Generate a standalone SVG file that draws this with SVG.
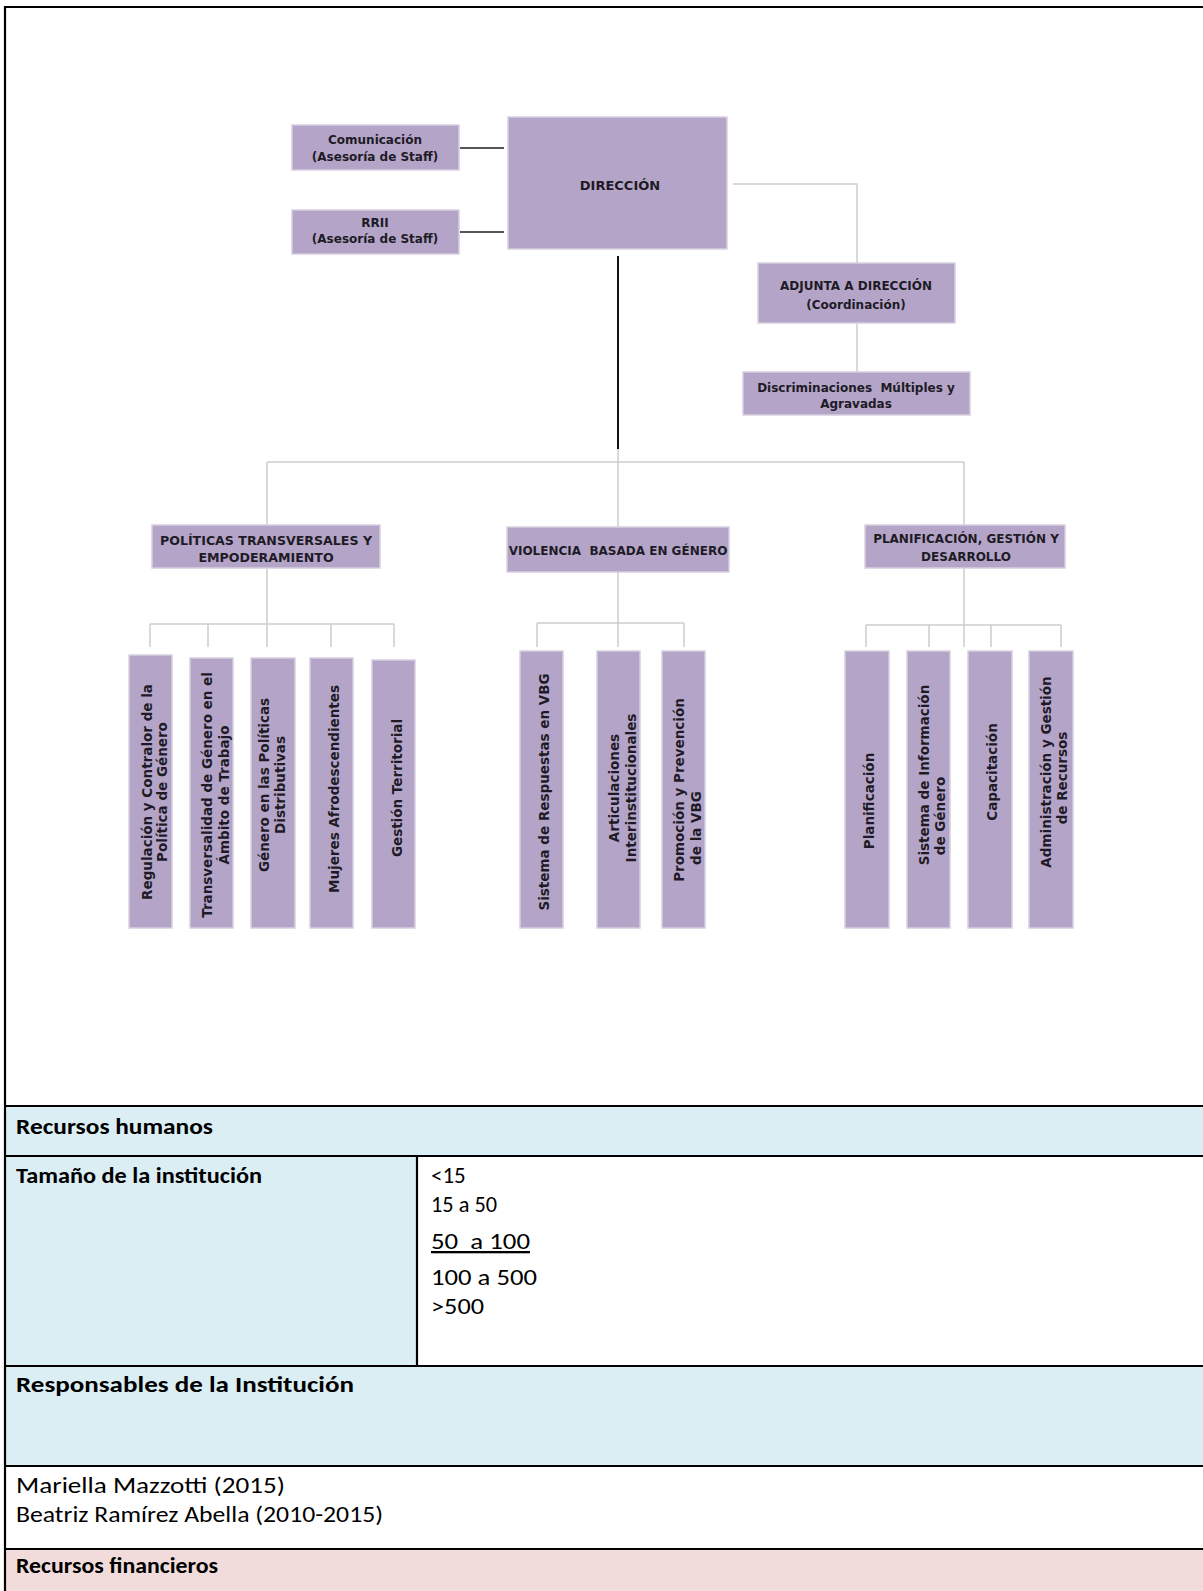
<svg xmlns="http://www.w3.org/2000/svg" width="1203" height="1591" viewBox="0 0 1203 1591">
<style>
.box{fill:#b4a5c8;stroke:#d6cfe0;stroke-width:1.5}
.lbl{font-family:"DejaVu Sans",Verdana,sans-serif;font-weight:bold;font-size:12px;fill:#1e1b26;text-anchor:middle;dominant-baseline:central;white-space:pre}
.v{font-size:13.5px}
.gray{stroke:#cdcdcd;stroke-width:1.5;fill:none}
.dark{stroke:#555;stroke-width:2;fill:none}
.main{stroke:#111;stroke-width:2;fill:none}
.rule{stroke:#000;stroke-width:2.2;fill:none}
.t{font-family:Carlito,Lato,"Open Sans",sans-serif;font-size:23px;fill:#000;white-space:pre}
.b{font-weight:bold}
</style>
<rect width="1203" height="1591" fill="#fff"/>

<g id="table-fills">
<rect x="6" y="1107" width="1197" height="48" fill="#daeef3"/>
<rect x="6" y="1157" width="411" height="208" fill="#daeef3"/>
<rect x="6" y="1367" width="1197" height="98" fill="#daeef3"/>
<rect x="6" y="1550" width="1197" height="41" fill="#f2dcdb"/>
</g>

<g id="connectors">
<line class="dark" x1="460" y1="148" x2="504" y2="148"/>
<line class="dark" x1="460" y1="232" x2="504" y2="232"/>
<line class="main" x1="618" y1="256" x2="618" y2="449"/>
<polyline class="gray" points="733,184 857,184 857,263"/>
<line class="gray" x1="857" y1="323" x2="857" y2="372"/>
<line class="gray" x1="267" y1="462" x2="964" y2="462"/>
<line class="gray" x1="267" y1="462" x2="267" y2="624"/>
<line class="gray" x1="618" y1="449" x2="618" y2="647"/>
<line class="gray" x1="964" y1="462" x2="964" y2="647"/>
<line class="gray" x1="150" y1="624" x2="394" y2="624"/>
<line class="gray" x1="150" y1="624" x2="150" y2="647"/>
<line class="gray" x1="208" y1="624" x2="208" y2="647"/>
<line class="gray" x1="267" y1="624" x2="267" y2="647"/>
<line class="gray" x1="331" y1="624" x2="331" y2="647"/>
<line class="gray" x1="394" y1="624" x2="394" y2="647"/>
<line class="gray" x1="537" y1="623" x2="684" y2="623"/>
<line class="gray" x1="537" y1="623" x2="537" y2="647"/>
<line class="gray" x1="684" y1="623" x2="684" y2="647"/>
<line class="gray" x1="866" y1="625" x2="1061" y2="625"/>
<line class="gray" x1="866" y1="625" x2="866" y2="647"/>
<line class="gray" x1="929" y1="625" x2="929" y2="647"/>
<line class="gray" x1="991" y1="625" x2="991" y2="647"/>
<line class="gray" x1="1061" y1="625" x2="1061" y2="647"/>
</g>

<g id="comunicacion"><rect class="box" x="292" y="125" width="167" height="45"/>
<text class="lbl" x="375" y="140">Comunicación</text><text class="lbl" x="375" y="157">(Asesoría de Staff)</text></g>
<g id="rrii"><rect class="box" x="292" y="210" width="167" height="44"/>
<text class="lbl" x="375" y="223">RRII</text><text class="lbl" x="375" y="239">(Asesoría de Staff)</text></g>
<g id="direccion"><rect class="box" x="508" y="117" width="219" height="132"/>
<text class="lbl" x="620" y="185" style="font-size:13px">DIRECCIÓN</text></g>
<g id="adjunta"><rect class="box" x="758" y="263" width="197" height="60"/>
<text class="lbl" x="856" y="286">ADJUNTA A DIRECCIÓN</text><text class="lbl" x="856" y="305">(Coordinación)</text></g>
<g id="discriminaciones"><rect class="box" x="743" y="372" width="227" height="43"/>
<text class="lbl" x="856" y="388">Discriminaciones  Múltiples y</text><text class="lbl" x="856" y="404">Agravadas</text></g>

<g id="politicas"><rect class="box" x="152" y="525" width="228" height="43"/>
<text class="lbl" x="266" y="540" style="font-size:12.6px">POLÍTICAS TRANSVERSALES Y</text><text class="lbl" x="266" y="557" style="font-size:12.6px">EMPODERAMIENTO</text></g>
<g id="vbg"><rect class="box" x="507" y="527" width="222" height="45"/>
<text class="lbl" x="618" y="551">VIOLENCIA  BASADA EN GÉNERO</text></g>
<g id="planificacion"><rect class="box" x="865" y="525" width="200" height="43"/>
<text class="lbl" x="966" y="539">PLANIFICACIÓN, GESTIÓN Y</text><text class="lbl" x="966" y="557">DESARROLLO</text></g>

<g id="pol-1"><rect class="box" x="129" y="655" width="43" height="273"/>
<text class="lbl v" transform="translate(147,792) rotate(-90)">Regulación y Contralor de la</text>
<text class="lbl v" transform="translate(162,792) rotate(-90)">Política de Género</text></g>
<g id="pol-2"><rect class="box" x="190" y="658" width="43" height="270"/>
<text class="lbl v" transform="translate(207,795) rotate(-90)">Transversalidad de Género en el</text>
<text class="lbl v" transform="translate(224,795) rotate(-90)">Ámbito de Trabajo</text></g>
<g id="pol-3"><rect class="box" x="251" y="658" width="44" height="270"/>
<text class="lbl v" transform="translate(264,785) rotate(-90)">Género en las Políticas</text>
<text class="lbl v" transform="translate(280,785) rotate(-90)">Distributivas</text></g>
<g id="pol-4"><rect class="box" x="310" y="658" width="43" height="270"/>
<text class="lbl v" transform="translate(334,789) rotate(-90)">Mujeres Afrodescendientes</text></g>
<g id="pol-5"><rect class="box" x="372" y="660" width="43" height="268"/>
<text class="lbl v" transform="translate(397,788) rotate(-90)">Gestión Territorial</text></g>

<g id="vbg-1"><rect class="box" x="520" y="651" width="43" height="277"/>
<text class="lbl v" transform="translate(544,792) rotate(-90)">Sistema de Respuestas en VBG</text></g>
<g id="vbg-2"><rect class="box" x="597" y="651" width="43" height="277"/>
<text class="lbl v" transform="translate(614,788) rotate(-90)">Articulaciones</text>
<text class="lbl v" transform="translate(631,788) rotate(-90)">Interinstitucionales</text></g>
<g id="vbg-3"><rect class="box" x="662" y="651" width="43" height="277"/>
<text class="lbl v" transform="translate(679,790) rotate(-90)">Promoción y Prevención</text>
<text class="lbl v" transform="translate(696,828) rotate(-90)">de la VBG</text></g>

<g id="plan-1"><rect class="box" x="845" y="651" width="44" height="277"/>
<text class="lbl v" transform="translate(869,801) rotate(-90)">Planificación</text></g>
<g id="plan-2"><rect class="box" x="907" y="651" width="43" height="277"/>
<text class="lbl v" transform="translate(924,775) rotate(-90)">Sistema de Información</text>
<text class="lbl v" transform="translate(940,816) rotate(-90)">de Género</text></g>
<g id="plan-3"><rect class="box" x="968" y="651" width="44" height="277"/>
<text class="lbl v" transform="translate(992,772) rotate(-90)">Capacitación</text></g>
<g id="plan-4"><rect class="box" x="1029" y="651" width="44" height="277"/>
<text class="lbl v" transform="translate(1046,772) rotate(-90)">Administración y Gestión</text>
<text class="lbl v" transform="translate(1062,778) rotate(-90)">de Recursos</text></g>

<g id="table-rules">
<line class="rule" x1="4" y1="7" x2="1203" y2="7"/>
<line class="rule" x1="5" y1="6" x2="5" y2="1591"/>
<line class="rule" x1="4" y1="1106" x2="1203" y2="1106"/>
<line class="rule" x1="4" y1="1156" x2="1203" y2="1156"/>
<line class="rule" x1="417" y1="1156" x2="417" y2="1366"/>
<line class="rule" x1="4" y1="1366" x2="1203" y2="1366"/>
<line class="rule" x1="4" y1="1466" x2="1203" y2="1466"/>
<line class="rule" x1="4" y1="1549" x2="1203" y2="1549"/>
</g>

<g id="table-text">
<text class="t b" x="16" y="1134" textLength="197" lengthAdjust="spacingAndGlyphs">Recursos humanos</text>
<text class="t b" x="16" y="1183" textLength="246" lengthAdjust="spacingAndGlyphs">Tamaño de la institución</text>
<text class="t" x="431" y="1183">&lt;15</text>
<text class="t" x="431" y="1212" textLength="66" lengthAdjust="spacingAndGlyphs">15 a 50</text>
<text class="t" x="431" y="1249" text-decoration="underline" textLength="99" lengthAdjust="spacingAndGlyphs">50  a 100</text>
<text class="t" x="431" y="1285" textLength="106" lengthAdjust="spacingAndGlyphs">100 a 500</text>
<text class="t" x="431" y="1314" textLength="53" lengthAdjust="spacingAndGlyphs">&gt;500</text>
<text class="t b" x="16" y="1392" textLength="338" lengthAdjust="spacingAndGlyphs">Responsables de la Institución</text>
<text class="t" x="16" y="1493" textLength="269" lengthAdjust="spacingAndGlyphs">Mariella Mazzotti (2015)</text>
<text class="t" x="16" y="1522" textLength="367" lengthAdjust="spacingAndGlyphs">Beatriz Ramírez Abella (2010-2015)</text>
<text class="t b" x="16" y="1573" textLength="202" lengthAdjust="spacingAndGlyphs">Recursos financieros</text>
</g>
</svg>
